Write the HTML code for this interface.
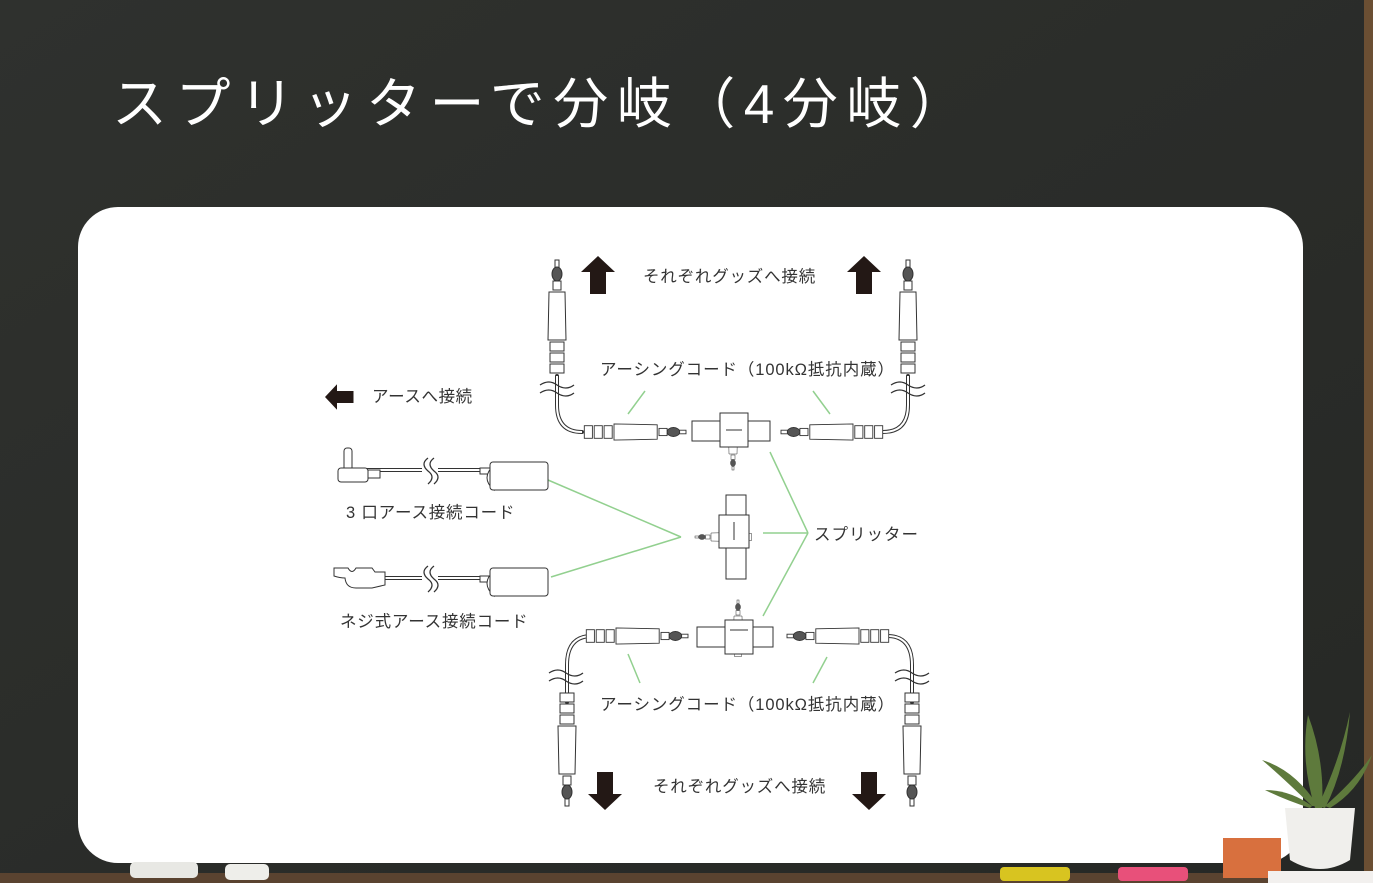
<!DOCTYPE html>
<html><head><meta charset="utf-8"><style>
html,body{margin:0;padding:0;width:1373px;height:883px;overflow:hidden;background:#2c2e2b}
svg{display:block}
text{font-family:"Liberation Sans","Noto Sans CJK JP",sans-serif}
</style></head><body>
<svg width="1373" height="883" viewBox="0 0 1373 883" xmlns="http://www.w3.org/2000/svg">
<defs>
<linearGradient id="bg" x1="0" y1="0" x2="1" y2="1"><stop offset="0" stop-color="#2f312e"/><stop offset="1" stop-color="#262825"/></linearGradient>
<g id="conn" fill="#fff" stroke="#333" stroke-width="1">
  <rect x="-2" y="0" width="4" height="8"/>
  <ellipse cx="0" cy="14" rx="5" ry="7" fill="#555"/>
  <rect x="-4" y="21" width="8" height="9"/>
  <path d="M-8 32 L8 32 L9 80 L-9 80 Z"/>
  <rect x="-7" y="82" width="14" height="9"/>
  <rect x="-7" y="93" width="14" height="9"/>
  <rect x="-7" y="104" width="14" height="9"/>
</g>
<g id="upArrow" fill="#231815"><polygon points="0,0 17,16 8,16 8,38 -8,38 -8,16 -17,16"/></g>
</defs>
<rect width="1373" height="883" fill="url(#bg)"/>
<rect x="1364" y="0" width="9" height="883" fill="#6b4f33"/>
<rect x="0" y="873" width="1373" height="10" fill="#5a4330"/>
<text x="112" y="123" font-size="55" fill="#fff" letter-spacing="8.5">スプリッターで分岐（4分岐）</text>
<rect x="78" y="207" width="1225" height="656" rx="40" fill="#fff"/>
<!-- chalk -->
<rect x="130" y="862" width="68" height="16" rx="5" fill="#e8e8e4"/>
<rect x="225" y="864" width="44" height="16" rx="5" fill="#eeeeea"/>
<rect x="1000" y="867" width="70" height="14" rx="4" fill="#d8c420"/>
<rect x="1118" y="867" width="70" height="14" rx="4" fill="#e8507a"/>
<!-- plant / eraser -->
<rect x="1223" y="838" width="58" height="40" fill="#d8703e"/>
<rect x="1268" y="871" width="105" height="12" fill="#f2f0ee"/>
<path d="M1285 808 L1355 808 L1350 860 Q1320 878 1290 860 Z" fill="#f0efec"/>
<g fill="#5e7a3c">
<path d="M1315 808 Q1300 760 1308 715 Q1325 760 1322 808Z"/>
<path d="M1318 806 Q1340 760 1350 712 Q1345 770 1325 808Z"/>
<path d="M1312 806 Q1280 775 1262 760 Q1295 770 1318 806Z"/>
<path d="M1325 806 Q1355 780 1372 755 Q1360 790 1330 808Z"/>
<path d="M1310 808 Q1285 800 1265 790 Q1290 790 1312 806Z"/>
</g>
<!-- green leader lines -->
<g stroke="#92d08f" stroke-width="1.5" fill="none">
<line x1="628" y1="414" x2="645" y2="391"/>
<line x1="830" y1="414" x2="813" y2="391"/>
<line x1="770" y1="452" x2="808" y2="533"/>
<line x1="763" y1="533" x2="808" y2="533"/>
<line x1="763" y1="616" x2="808" y2="533"/>
<line x1="548" y1="480" x2="681" y2="537"/>
<line x1="551" y1="577" x2="681" y2="537"/>
<line x1="628" y1="654" x2="640" y2="683"/>
<line x1="827" y1="657" x2="813" y2="683"/>
</g>
<!-- cables -->
<g stroke="#333" stroke-width="4" fill="none" stroke-linecap="round">
<path d="M557 376 L557 405 Q557 432 582 432"/>
<path d="M908 376 L908 405 Q908 432 883 432"/>
<path d="M567 702 L567 665 Q567 636 592 636"/>
<path d="M912 702 L912 665 Q912 636 887 636"/>
<path d="M343 470 L545 470" /><path d="M375 578 L545 578"/>
</g>
<g stroke="#fff" stroke-width="2" fill="none">
<path d="M557 376 L557 405 Q557 432 582 432"/>
<path d="M908 376 L908 405 Q908 432 883 432"/>
<path d="M567 702 L567 665 Q567 636 592 636"/>
<path d="M912 702 L912 665 Q912 636 887 636"/>
<path d="M343 470 L545 470" /><path d="M375 578 L545 578"/>
</g>
<!-- break marks -->
<g stroke="#333" stroke-width="1.3" fill="#fff">
<path d="M540 385 q9 -6 17 0 q9 6 17 0 M540 393 q9 -6 17 0 q9 6 17 0" fill="none"/>
<path d="M891 385 q9 -6 17 0 q9 6 17 0 M891 393 q9 -6 17 0 q9 6 17 0" fill="none"/>
<path d="M549 673 q9 -6 17 0 q9 6 17 0 M549 681 q9 -6 17 0 q9 6 17 0" fill="none"/>
<path d="M895 673 q9 -6 17 0 q9 6 17 0 M895 681 q9 -6 17 0 q9 6 17 0" fill="none"/>
<rect x="422" y="458" width="16" height="26" stroke="none"/>
<path d="M428 458 q-8 6 0 13 q8 6 0 13 M434 458 q-8 6 0 13 q8 6 0 13" fill="none"/>
<rect x="422" y="566" width="16" height="26" stroke="none"/>
<path d="M428 566 q-8 6 0 13 q8 6 0 13 M434 566 q-8 6 0 13 q8 6 0 13" fill="none"/>
</g>
<!-- connectors -->
<use href="#conn" transform="translate(557,260)"/>
<use href="#conn" transform="translate(908,260)"/>
<use href="#conn" transform="translate(686,432) rotate(90) scale(0.9)"/>
<use href="#conn" transform="translate(781,432) rotate(-90) scale(0.9)"/>
<use href="#conn" transform="translate(567,806) rotate(180)"/>
<use href="#conn" transform="translate(912,806) rotate(180)"/>
<use href="#conn" transform="translate(688,636) rotate(90) scale(0.9)"/>
<use href="#conn" transform="translate(787,636) rotate(-90) scale(0.9)"/>
<!-- splitters -->
<g fill="#fff" stroke="#333" stroke-width="1">
<use href="#conn" transform="translate(733,470) rotate(180) scale(0.5)"/>
<rect x="692" y="421" width="78" height="20"/>
<rect x="720" y="413" width="28" height="34"/>
<line x1="726" y1="430" x2="742" y2="430"/>
<use href="#conn" transform="translate(695,537) rotate(-90) scale(0.5)"/>
<rect x="726" y="495" width="20" height="84"/>
<rect x="719" y="515" width="30" height="33"/>
<line x1="734" y1="522" x2="734" y2="540"/>
<use href="#conn" transform="translate(738,600) scale(0.5)"/>
<rect x="697" y="627" width="76" height="20"/>
<rect x="725" y="620" width="28" height="34"/>
<line x1="730" y1="630" x2="748" y2="630"/>
</g>
<!-- earth cords -->
<g fill="#fff" stroke="#333" stroke-width="1">
<rect x="480" y="468" width="14" height="6"/>
<path d="M494 465 Q480 478 494 490 Z"/>
<rect x="490" y="462" width="58" height="28" rx="3"/>
<rect x="344" y="448" width="8" height="26" rx="3"/>
<rect x="338" y="468" width="30" height="14" rx="3"/>
<rect x="368" y="470" width="12" height="8"/>
<rect x="480" y="576" width="14" height="6"/>
<path d="M494 571 Q480 583 494 596 Z"/>
<rect x="490" y="568" width="58" height="28" rx="3"/>
<path d="M334 568 L348 568 Q352 575 356 568 L372 568 L375 572 L385 572 L385 585 L372 588 L356 588 Q346 588 345 578 Q340 578 334 576 Z"/>
</g>
<!-- arrows -->
<use href="#upArrow" transform="translate(598,256)"/>
<use href="#upArrow" transform="translate(864,256)"/>
<use href="#upArrow" transform="translate(605,810) rotate(180)"/>
<use href="#upArrow" transform="translate(869,810) rotate(180)"/>
<use href="#upArrow" transform="translate(325,397) rotate(-90) scale(0.75)"/>
<!-- labels -->
<g font-size="16.5" fill="#333">
<text x="643" y="282" letter-spacing="0.8">それぞれグッズへ接続</text>
<text x="600" y="375" letter-spacing="0.9">アーシングコード（100kΩ抵抗内蔵）</text>
<text x="372" y="402" letter-spacing="0.6">アースへ接続</text>
<text x="346" y="518" letter-spacing="0.8">3 口アース接続コード</text>
<text x="340" y="627" letter-spacing="0.8">ネジ式アース接続コード</text>
<text x="814" y="540" letter-spacing="1">スプリッター</text>
<text x="600" y="710" letter-spacing="0.9">アーシングコード（100kΩ抵抗内蔵）</text>
<text x="653" y="792" letter-spacing="0.8">それぞれグッズへ接続</text>
</g>
</svg>
</body></html>
